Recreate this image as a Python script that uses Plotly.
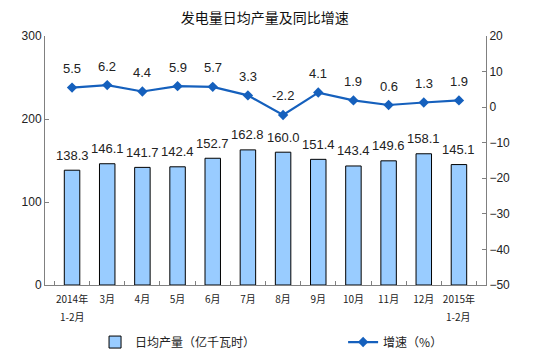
import plotly.graph_objects as go

categories = ["2014年", "3月", "4月", "5月", "6月", "7月", "8月", "9月",
              "10月", "11月", "12月", "2015年"]
sub_labels = ["1-2月", "", "", "", "", "", "", "", "", "", "", "1-2月"]
output = [138.3, 146.1, 141.7, 142.4, 152.7, 162.8, 160.0, 151.4, 143.4, 149.6, 158.1, 145.1]
growth = [5.5, 6.2, 4.4, 5.9, 5.7, 3.3, -2.2, 4.1, 1.9, 0.6, 1.3, 1.9]

font_cjk = "Noto Sans CJK SC, Liberation Sans, Arial, sans-serif"
font_num = "Liberation Sans, Arial, sans-serif"
line_color = "#1560BD"

fig = go.Figure()
fig.add_trace(go.Bar(
    x=categories, y=output, name="日均产量（亿千瓦时）",
    marker=dict(color="#99CCFF", line=dict(color="#000000", width=1)),
    width=0.44, yaxis="y", legend="legend",
))
fig.add_trace(go.Scatter(
    x=categories, y=growth, name="增速（%）", mode="lines+markers",
    line=dict(color=line_color, width=2.2),
    marker=dict(symbol="diamond", size=8, color=line_color),
    yaxis="y2", legend="legend2",
))

annotations = []
for c, v in zip(categories, output):
    annotations.append(dict(x=c, y=v, xref="x", yref="y", text=f"{v:.1f}",
                            showarrow=False, yshift=15,
                            font=dict(family=font_num, size=13, color="#222222")))
for c, v in zip(categories, growth):
    annotations.append(dict(x=c, y=v, xref="x", yref="y2", text=f"{v:.1f}",
                            showarrow=False, yshift=19,
                            font=dict(family=font_num, size=13, color="#222222")))
for c, s in zip(categories, sub_labels):
    if s:
        annotations.append(dict(x=c, y=0, xref="x", yref="y", text=s, showarrow=False,
                                yshift=-31, font=dict(family=font_cjk, size=10, color="#222222")))

legend_font = dict(family=font_cjk, size=12, color="#222222")
fig.update_layout(
    width=544, height=355,
    margin=dict(l=37, r=66, t=28, b=78),
    paper_bgcolor="white", plot_bgcolor="white",
    title=dict(text="发电量日均产量及同比增速", x=0.472, xanchor="center", y=0.971, yanchor="middle",
               font=dict(family=font_cjk, size=14, color="#111111")),
    showlegend=True,
    legend=dict(orientation="h", xref="container", yref="container", x=0.160, xanchor="left",
                y=0.059, yanchor="middle", font=legend_font, bgcolor="rgba(0,0,0,0)"),
    legend2=dict(orientation="h", xref="container", yref="container", x=0.616, xanchor="left",
                 y=0.059, yanchor="middle", font=legend_font, bgcolor="rgba(0,0,0,0)"),
    bargap=0.5,
    xaxis=dict(type="category", showline=True, linecolor="#808080", linewidth=1,
               ticks="inside", tickson="boundaries", ticklen=4, tickcolor="#808080",
               tickangle=0, automargin=False, ticklabelstandoff=5,
               tickfont=dict(family=font_cjk, size=10, color="#222222"),
               showgrid=False, mirror=False),
    yaxis=dict(range=[0, 300], dtick=100, showline=True, linecolor="#808080", linewidth=1,
               ticks="inside", ticklen=4, tickcolor="#808080", showgrid=False, zeroline=False,
               automargin=False,
               tickfont=dict(family=font_num, size=12, color="#222222")),
    yaxis2=dict(range=[-50, 20], dtick=10, overlaying="y", side="right", showline=True,
                linecolor="#808080", linewidth=1, ticks="inside", ticklen=4, tickcolor="#808080",
                showgrid=False, zeroline=False, automargin=False,
                tickfont=dict(family=font_num, size=12, color="#222222")),
    annotations=annotations,
)

fig.write_html("out.html")
